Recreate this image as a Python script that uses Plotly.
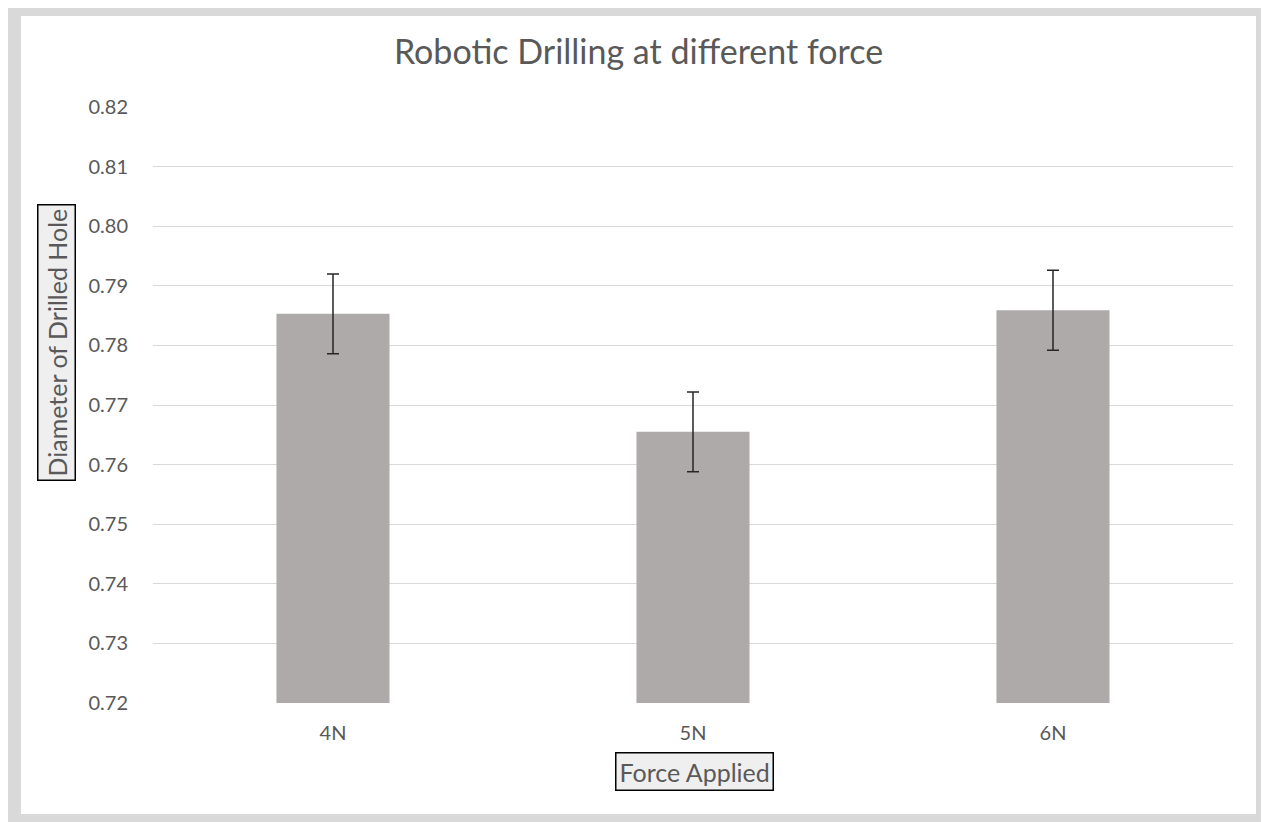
import plotly.graph_objects as go

categories = ["4N", "5N", "6N"]
values = [0.7853, 0.7655, 0.7859]
errors = [0.0067, 0.0067, 0.0067]
y_ticks = [0.72, 0.73, 0.74, 0.75, 0.76, 0.77, 0.78, 0.79, 0.80, 0.81, 0.82]
y_tick_labels = ["0.72", "0.73", "0.74", "0.75", "0.76", "0.77", "0.78", "0.79", "0.80", "0.81", "0.82"]

# figure is placed at (8, 8) by the page's body margin
W, H = 1261, 814
L, R, T, B = 145, 36, 99, 119
pw, ph = W - L - R, H - T - B

def px(x):
    return (x - L) / pw

def py(y):
    return 1 - (y - T) / ph

FONT = "Lato, Open Sans, sans-serif"
TXT = "#595959"

fig = go.Figure()
fig.add_trace(go.Bar(
    x=categories, y=values,
    marker=dict(color="#aeaaaa", line=dict(width=0)),
    width=0.314,
    error_y=dict(type="data", array=errors, visible=True, color="#262626", thickness=1.5, width=6),
))

fig.update_layout(
    width=W, height=H,
    margin=dict(l=L, r=R, t=T, b=B),
    paper_bgcolor="#d9d9d9", plot_bgcolor="white",
    showlegend=False,
    title=dict(text="Robotic Drilling at different force", x=0.5, xref="container", xanchor="center",
               y=1 - 44 / H, yref="container", yanchor="middle",
               font=dict(family=FONT, size=34, color=TXT)),
    xaxis=dict(showgrid=False, showline=False, zeroline=False, ticks="outside", ticklen=12,
               tickcolor="rgba(0,0,0,0)", tickfont=dict(family=FONT, size=20, color=TXT)),
    yaxis=dict(range=[0.72, 0.82], tickvals=y_ticks, ticktext=y_tick_labels, showgrid=True,
               gridcolor="#d9d9d9", gridwidth=1, zeroline=False, showline=False,
               ticks="outside", ticklen=20, tickcolor="rgba(0,0,0,0)",
               tickfont=dict(family=FONT, size=20, color=TXT)),
    shapes=[
        dict(type="rect", xref="paper", yref="paper",
             x0=px(13), x1=px(1248), y0=py(806), y1=py(8),
             line=dict(width=0), fillcolor="white", layer="below"),
    ],
    annotations=[
        dict(text="Diameter of Drilled Hole", textangle=-90, xref="paper", yref="paper",
             x=px(48), y=py(335), xanchor="center", yanchor="middle", showarrow=False,
             font=dict(family=FONT, size=25, color=TXT), bgcolor="#efefef",
             bordercolor="black", borderwidth=1.5, borderpad=3),
        dict(text="Force Applied", xref="paper", yref="paper",
             x=px(686), y=py(763), xanchor="center", yanchor="middle", showarrow=False,
             font=dict(family=FONT, size=25, color=TXT), bgcolor="#efefef",
             bordercolor="black", borderwidth=1.5, borderpad=3),
    ],
)

fig.write_html("out.html")
